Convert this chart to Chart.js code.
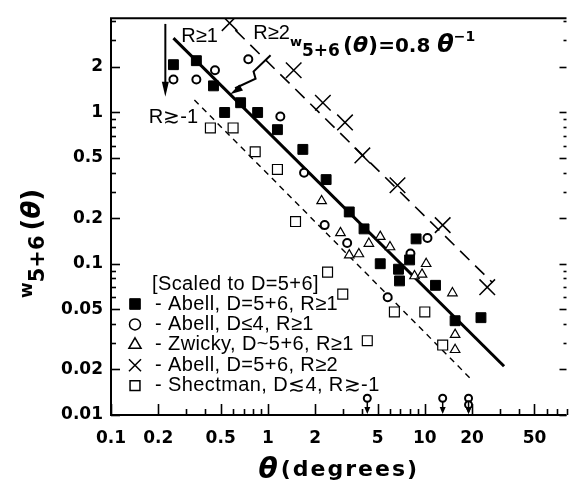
<!DOCTYPE html>
<html><head><meta charset="utf-8">
<script src="https://cdn.jsdelivr.net/npm/chart.js@4.4.0/dist/chart.umd.min.js"></script>
<style>html,body{margin:0;padding:0;background:#fff;}#wrap{width:579px;height:487px;}</style>
</head><body><div id="wrap"><canvas id="c" width="579" height="487"></canvas></div>
<script>
// ---- tick labels ----
const xTickValues = [0.1, 0.2, 0.5, 1, 2, 5, 10, 20, 50];
const xTickLabels = ['0.1', '0.2', '0.5', '1', '2', '5', '10', '20', '50'];
const yTickValues = [0.01, 0.02, 0.05, 0.1, 0.2, 0.5, 1, 2];
const yTickLabels = ['0.01', '0.02', '0.05', '0.1', '0.2', '0.5', '1', '2'];

// ---- series ----
const abell56R1X = [0.25, 0.35, 0.45, 0.53, 0.67, 0.86, 1.15, 1.67, 2.35, 3.3, 4.1, 5.2, 6.8, 6.9, 8.0, 8.8, 11.7, 15.6, 22.8];
const abell56R1Y = [2.07, 2.2, 1.5, 1.0, 1.16, 1.0, 0.77, 0.57, 0.36, 0.22, 0.17, 0.10, 0.092, 0.077, 0.106, 0.146, 0.072, 0.042, 0.044];

const abell4R1X = [0.25, 0.35, 0.46, 0.75, 1.2, 1.7, 2.3, 3.2, 5.8, 8.1, 10.4];
const abell4R1Y = [1.65, 1.65, 1.9, 2.25, 0.94, 0.40, 0.18, 0.137, 0.06, 0.117, 0.148];

const abell4LimitX = [4.3, 13, 19, 19];
const abell4LimitY = [0.0129, 0.0129, 0.0129, 0.0117];

const zwickyX = [2.2, 2.9, 3.3, 3.8, 4.4, 5.2, 6.0, 8.6, 9.6, 10.2, 15.0, 15.6, 15.6];
const zwickyY = [0.26, 0.16, 0.114, 0.116, 0.136, 0.151, 0.129, 0.083, 0.085, 0.10, 0.064, 0.034, 0.027];

const abell56R2X = [0.57, 1.46, 2.24, 3.1, 4.0, 6.7, 13, 25];
const abell56R2Y = [3.9, 1.9, 1.16, 0.86, 0.52, 0.33, 0.18, 0.07];

const shectmanX = [0.43, 0.6, 0.83, 1.15, 1.5, 2.4, 3.0, 4.3, 6.4, 10, 13];
const shectmanY = [0.79, 0.79, 0.55, 0.42, 0.19, 0.088, 0.063, 0.031, 0.048, 0.048, 0.029];

const fitX = [0.25, 32];
const fitY = [3.1, 0.021];
const r2LineX = [0.62, 27];
const r2LineY = [3.5, 0.075];
const shLineX = [0.34, 20];
const shLineY = [1.21, 0.017];

const seriesLabels = ['- Abell, D=5+6, R\u22651', '- Abell, D\u22644, R\u22651', '- Zwicky, D~5+6, R\u22651', '- Abell, D=5+6, R\u22652', '- Shectman, D\u22724, R\u2273-1'];
const legendTitle = '[Scaled to D=5+6]';

const X_MIN = 0.1, X_MAX = 80, Y_MIN = 0.01, Y_MAX = 4.2;

const pts = (xs, ys) => xs.map((x, i) => ({x: x, y: ys[i]}));

function tickSet(min, max) {
  const out = [];
  for (let e = -3; e <= 3; e++) for (let m = 1; m <= 9; m++) {
    const v = +(m * Math.pow(10, e)).toPrecision(3);
    if (v >= min * 0.999 && v <= max * 1.001) out.push(v);
  }
  return out;
}

function drawRuns(ctx, x, y, runs) {
  let cx = x;
  runs.forEach(r => {
    ctx.font = r.font;
    ctx.fillText(r.t, cx, y + (r.dy || 0));
    cx += ctx.measureText(r.t).width + (r.gap || 0);
  });
}

function arrowHead(ctx, tipX, tipY, dirX, dirY, len, half) {
  const n = Math.hypot(dirX, dirY); const ux = dirX / n, uy = dirY / n;
  const bx = tipX - ux * len, by = tipY - uy * len;
  ctx.beginPath();
  ctx.moveTo(tipX, tipY);
  ctx.lineTo(bx - uy * half, by + ux * half);
  ctx.lineTo(bx + uy * half, by - ux * half);
  ctx.closePath(); ctx.fill();
}

const F = '"DejaVu Sans"';
const LF = '20px "Liberation Sans"';
const decor = {
  id: 'decor',
  afterDatasetsDraw(chart) {
    const {ctx, chartArea: a, scales: {x, y}} = chart;
    ctx.save();
    ctx.strokeStyle = '#000'; ctx.fillStyle = '#000';
    // frame
    ctx.lineWidth = 2;
    ctx.beginPath();
    ctx.moveTo(a.right, a.top); ctx.lineTo(a.left, a.top); ctx.lineTo(a.left, a.bottom); ctx.lineTo(a.right, a.bottom);
    ctx.stroke();
    // tick marks (inward)
    ctx.lineWidth = 1.6;
    tickSet(X_MIN, X_MAX).forEach(v => {
      const px = Math.round(x.getPixelForValue(v)) + 0.5;
      const L = xTickValues.includes(v) ? 11 : 6;
      ctx.beginPath(); ctx.moveTo(px, a.bottom); ctx.lineTo(px, a.bottom - L); ctx.stroke();
    });
    tickSet(Y_MIN, Y_MAX).forEach(v => {
      const py = Math.round(y.getPixelForValue(v)) + 0.5;
      const L = yTickValues.includes(v) ? 9 : 5;
      ctx.beginPath(); ctx.moveTo(a.left, py); ctx.lineTo(a.left + L, py); ctx.stroke();
      ctx.beginPath(); ctx.moveTo(a.right, py); ctx.lineTo(a.right - (L - 2), py); ctx.stroke();
    });
    // upper-limit arrows
    ctx.lineWidth = 1.5;
    abell4LimitX.forEach((lx, i) => {
      const px = x.getPixelForValue(lx), py = y.getPixelForValue(abell4LimitY[i]);
      ctx.beginPath(); ctx.moveTo(px, py + 3); ctx.lineTo(px, a.bottom - 6); ctx.stroke();
      arrowHead(ctx, px, a.bottom - 1, 0, 1, 7, 3);
    });
    // vertical arrow R>~-1
    const vx = x.getPixelForValue(0.222);
    const vy1 = y.getPixelForValue(3.85), vy2 = y.getPixelForValue(1.27);
    ctx.lineWidth = 2;
    ctx.beginPath(); ctx.moveTo(vx, vy1); ctx.lineTo(vx, vy2 - 10); ctx.stroke();
    arrowHead(ctx, vx, vy2, 0, 1, 15, 3.5);
    // zig-zag arrow R>=2
    const sx = x.getPixelForValue(1.04), sy = y.getPixelForValue(2.39);
    const ex = x.getPixelForValue(0.574), ey = y.getPixelForValue(1.32);
    const ax = sx + (ex - sx) * 0.42, ay = sy + (ey - sy) * 0.42;
    const bx = ax + 2, by = ay + 7;
    ctx.beginPath(); ctx.moveTo(sx, sy); ctx.lineTo(ax, ay); ctx.lineTo(bx, by); ctx.lineTo(ex + 5, ey - 6); ctx.stroke();
    arrowHead(ctx, ex, ey, ex - bx, ey - by, 13, 3.5);
    // R labels
    ctx.textBaseline = 'middle'; ctx.textAlign = 'center';
    ctx.font = LF;
    ctx.fillText('R\u22651', x.getPixelForValue(0.367), y.getPixelForValue(3.2));
    ctx.fillText('R\u22652', x.getPixelForValue(1.056), y.getPixelForValue(3.35));
    ctx.fillText('R\u2273-1', x.getPixelForValue(0.25), y.getPixelForValue(0.93));
    // equation
    ctx.textAlign = 'left'; ctx.textBaseline = 'alphabetic';
    drawRuns(ctx, 290, 52, [
      {t: 'w', font: 'bold 13px ' + F, dy: -6},
      {t: '5+6', font: 'bold 17px ' + F, dy: 4, gap: 3},
      {t: '(', font: 'bold 22px ' + F},
      {t: '\u03b8', font: 'italic bold 22px ' + F},
      {t: ')', font: 'bold 22px ' + F},
      {t: '=0.8 ', font: 'bold 20px ' + F},
      {t: '\u03b8', font: 'italic bold 24px ' + F},
      {t: '\u22121', font: 'bold 14px ' + F, dy: -11}
    ]);
    // legend
    ctx.textBaseline = 'middle';
    ctx.font = LF;
    ctx.letterSpacing = '0.4px';
    ctx.fillStyle = '#000';
    ctx.fillText(legendTitle, 152, 284);
    const legR = [7.5, 5.5, 7, 8.5, 7];
    chart.data.datasets.slice(0, 5).forEach((ds, i) => {
      const yy = 304 + i * 20.4;
      ctx.save();
      ctx.fillStyle = ds.backgroundColor; ctx.strokeStyle = '#000'; ctx.lineWidth = i === 0 ? 1 : 1.5;
      Chart.helpers.drawPoint(ctx, {pointStyle: ds.pointStyle, radius: legR[i], rotation: 0, borderWidth: 1.5}, 135, yy);
      ctx.restore();
      ctx.fillStyle = '#000';
      ctx.font = LF;
      ctx.fillText(ds.label, 155, yy);
    });
    ctx.letterSpacing = '0px';
    // y axis title (rotated)
    ctx.save();
    ctx.translate(40, 298); ctx.rotate(-Math.PI / 2);
    ctx.textBaseline = 'alphabetic';
    drawRuns(ctx, 0, 0, [
      {t: 'w', font: 'bold 17px ' + F, dy: -8},
      {t: '5+6', font: 'bold 21px ' + F, dy: 4, gap: 5},
      {t: '(', font: 'bold 26px ' + F},
      {t: '\u03b8', font: 'italic bold 26px ' + F},
      {t: ')', font: 'bold 26px ' + F}
    ]);
    ctx.restore();
    // x axis title
    ctx.save();
    ctx.textBaseline = 'alphabetic';
    ctx.font = 'italic bold 28px ' + F;
    const w1 = ctx.measureText('\u03b8').width;
    ctx.font = 'bold 22px ' + F;
    ctx.letterSpacing = '2px';
    const w2 = ctx.measureText('(degrees)').width;
    const cx = (a.left + a.right) / 2 - (w1 + w2 + 3) / 2;
    ctx.letterSpacing = '0px';
    ctx.font = 'italic bold 28px ' + F;
    ctx.fillText('\u03b8', cx, 478);
    ctx.letterSpacing = '2px';
    ctx.font = 'bold 22px ' + F;
    ctx.fillText('(degrees)', cx + w1 + 3, 476);
    ctx.restore();
    ctx.restore();
  }
};

const openBg = '#ffffff';
new Chart(document.getElementById('c'), {
  type: 'scatter',
  data: {
    datasets: [
      {label: seriesLabels[0], data: pts(abell56R1X, abell56R1Y), pointStyle: 'rect', pointRadius: 7, backgroundColor: '#000', borderColor: '#000', borderWidth: 1},
      {label: seriesLabels[1], data: pts(abell4R1X, abell4R1Y), pointStyle: 'circle', pointRadius: 4, backgroundColor: openBg, borderColor: '#000', borderWidth: 2},
      {label: seriesLabels[2], data: pts(zwickyX, zwickyY), pointStyle: 'triangle', pointRadius: 5.5, backgroundColor: openBg, borderColor: '#000', borderWidth: 1.2},
      {label: seriesLabels[3], data: pts(abell56R2X, abell56R2Y), pointStyle: 'crossRot', pointRadius: 11, backgroundColor: '#000', borderColor: '#000', borderWidth: 1.5},
      {label: seriesLabels[4], data: pts(shectmanX, shectmanY), pointStyle: 'rect', pointRadius: 7, backgroundColor: openBg, borderColor: '#000', borderWidth: 1.2},
      {label: 'limits', data: pts(abell4LimitX, abell4LimitY), pointStyle: 'circle', pointRadius: 3.5, backgroundColor: openBg, borderColor: '#000', borderWidth: 2, clip: false},
      {label: 'fit', data: pts(fitX, fitY), showLine: true, pointRadius: 0, borderColor: '#000', borderWidth: 3},
      {label: 'R2 line', data: pts(r2LineX, r2LineY), showLine: true, pointRadius: 0, borderColor: '#000', borderWidth: 1.6, borderDash: [13, 8]},
      {label: 'Shectman line', data: pts(shLineX, shLineY), showLine: true, pointRadius: 0, borderColor: '#000', borderWidth: 1.4, borderDash: [6, 5]}
    ]
  },
  options: {
    responsive: false, animation: false, devicePixelRatio: 1,
    events: [],
    layout: {padding: {top: 9, right: 0, left: 0, bottom: 0}},
    plugins: {legend: {display: false}, tooltip: {enabled: false}},
    scales: {
      x: {
        type: 'logarithmic', min: X_MIN, max: X_MAX,
        afterFit: s => { s.height = 72; },
        afterBuildTicks: s => { s.ticks = xTickValues.map(v => ({value: v})); },
        grid: {display: false, drawTicks: false},
        border: {display: false},
        ticks: {autoSkip: false, maxRotation: 0, padding: 13, color: '#000', font: {family: 'DejaVu Sans', weight: 'bold', size: 17},
          callback: v => xTickLabels[xTickValues.indexOf(v)]}
      },
      y: {
        type: 'logarithmic', min: Y_MIN, max: Y_MAX,
        afterFit: s => { s.width = 111; },
        afterBuildTicks: s => { s.ticks = yTickValues.map(v => ({value: v})); },
        grid: {display: false, drawTicks: false},
        border: {display: false},
        ticks: {autoSkip: false, padding: 8, color: '#000', font: {family: 'DejaVu Sans', weight: 'bold', size: 17},
          callback: v => yTickLabels[yTickValues.indexOf(v)]}
      }
    }
  },
  plugins: [decor]
});
</script>
</body></html>
